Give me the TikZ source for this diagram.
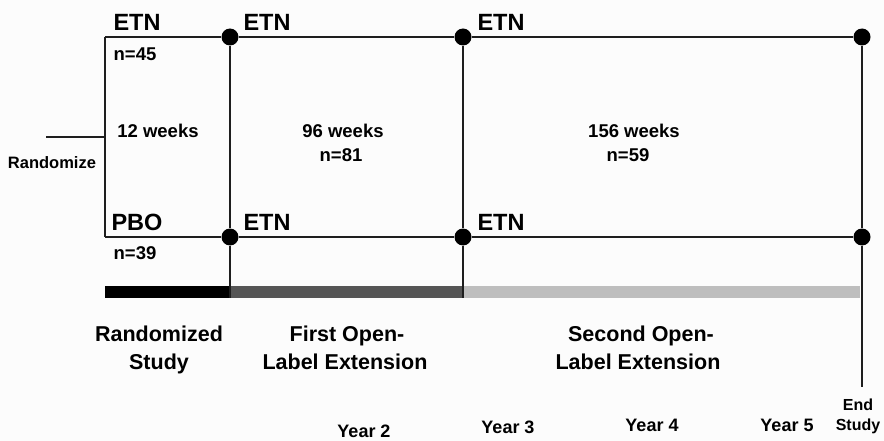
\documentclass[tikz,border=0pt]{standalone}
\usepackage{fontspec}
\setmainfont{Liberation Sans}
\definecolor{linec}{HTML}{1E1E1E}
\definecolor{bardark}{HTML}{555555}
\definecolor{barlight}{HTML}{BEBEBE}
\definecolor{bgc}{HTML}{FCFCFC}
\begin{document}
\begin{tikzpicture}[x=1pt,y=-1pt,
  ln/.style={line width=1.7pt, draw=linec},
  dot/.style={circle, fill=black, inner sep=0pt, minimum size=17pt},
  arm/.style={font=\fontsize{23.5}{27}\selectfont\bfseries, anchor=base, inner sep=0pt},
  mid/.style={font=\fontsize{18.5}{22}\selectfont\bfseries, anchor=base, inner sep=0pt},
  phase/.style={font=\fontsize{21.5}{25}\selectfont\bfseries, anchor=base, inner sep=0pt},
  small/.style={font=\fontsize{16}{19}\selectfont\bfseries, anchor=base, inner sep=0pt},
  yr/.style={font=\fontsize{18}{22}\selectfont\bfseries, anchor=base, inner sep=0pt}]
\fill[bgc] (0,0) rectangle (884,441);
\useasboundingbox (0,0) rectangle (884,441);

% bars
\fill[black] (105,286) rectangle (230,298);
\fill[bardark] (230,286) rectangle (463,298);
\fill[barlight] (463,286) rectangle (860,298);

% corner and end coordinates
\coordinate (tl) at (105,37);
\coordinate (bl) at (105,237);
\coordinate (r0) at (46,137);
\coordinate (r1) at (105,137);
\coordinate (v1) at (230,298);
\coordinate (v2) at (463,298);
\coordinate (v3) at (862,387);

% dots
\node[dot] (t1) at (230,37) {};
\node[dot] (t2) at (463,37) {};
\node[dot] (t3) at (862,37) {};
\node[dot] (b1) at (230,237) {};
\node[dot] (b2) at (463,237) {};
\node[dot] (b3) at (862,237) {};

% lines
\draw[ln] (r0) -- (r1);
\draw[ln] (tl) -- (bl);
\draw[ln] (tl) -- (t1);
\draw[ln] (t1) -- (t2);
\draw[ln] (t2) -- (t3);
\draw[ln] (bl) -- (b1);
\draw[ln] (b1) -- (b2);
\draw[ln] (b2) -- (b3);
\draw[ln] (t1) -- (b1);
\draw[ln] (b1) -- (v1);
\draw[ln] (t2) -- (b2);
\draw[ln] (b2) -- (v2);
\draw[ln] (t3) -- (b3);
\draw[ln] (b3) -- (v3);

% arm labels
\node[arm] (etn0) at (137,31) {ETN};
\node[arm] (pbo) at (137,230) {PBO};
\node[arm] (etn1) at (267,31) {ETN};
\node[arm] (etn2) at (267,230) {ETN};
\node[arm] (etn3) at (501,31) {ETN};
\node[arm] (etn4) at (501,230) {ETN};

% counts and durations
\node[mid] (n45) at (135,60.5) {n=45};
\node[mid] (n39) at (135,259.5) {n=39};
\node[mid] (w12) at (158,137.5) {12 weeks};
\node[mid] (w96) at (343,137.5) {96 weeks};
\node[mid] (n81) at (341,161.5) {n=81};
\node[mid] (w156) at (634,137.5) {156 weeks};
\node[mid] (n59) at (628,161.5) {n=59};
\node[font=\fontsize{16.5}{19}\selectfont\bfseries, anchor=base, inner sep=0pt] (rand) at (52,168.5) {Randomize};

% phases
\node[phase] (p1a) at (159,341.5) {Randomized};
\node[phase] (p1b) at (159,369.5) {Study};
\node[phase] (p2a) at (347,341.5) {First Open-};
\node[phase] (p2b) at (345,369.5) {Label Extension};
\node[phase] (p3a) at (641,341.5) {Second Open-};
\node[phase] (p3b) at (638,369.5) {Label Extension};

% years
\node[yr] (y2) at (364,437.5) {Year 2};
\node[yr] (y3) at (508,433.5) {Year 3};
\node[yr] (y4) at (652,431) {Year 4};
\node[yr] (y5) at (787,431) {Year 5};
\node[small] (end1) at (858,410.5) {End};
\node[small] (end2) at (858,430.5) {Study};
\end{tikzpicture}
\end{document}
